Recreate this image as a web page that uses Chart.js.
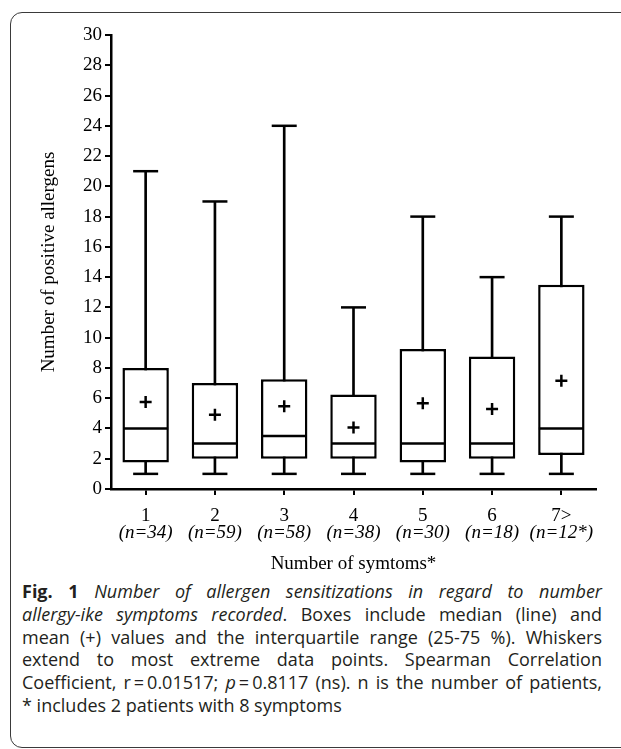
<!DOCTYPE html>
<html lang="en">
<head>
  <meta charset="UTF-8">
  <title>Number of allergen sensitizations</title>
  <style>
    html, body { margin: 0; padding: 0; width: 621px; height: 749px; overflow: hidden; background: #fff; }
    .frame {
      position: absolute; left: 10px; top: 12px; width: 700px; height: 734px;
      border: 1.5px solid #3a3a3a; border-radius: 12px;
    }
    .plot { position: absolute; left: 0; top: 0; width: 621px; height: 575px; }
    .caption {
      position: absolute; left: 22px; top: 580px; width: 580px;
      font-family: "Open Sans", sans-serif; font-size: 18px; line-height: 22.8px;
      color: #231f20;
    }
    .caption div { text-align: justify; text-align-last: justify; white-space: nowrap; }
    .caption div.last { text-align-last: left; }
    .caption b { font-weight: 700; }
  </style>
</head>
<body>
  <div class="frame"></div>
  <div class="plot">
    <canvas id="boxchart"></canvas>
  </div>
  <div class="caption">
    <div><b>Fig. 1</b> <i>Number of allergen sensitizations in regard to number</i></div>
    <div><i>allergy-ike symptoms recorded</i>. Boxes include median (line) and</div>
    <div>mean (+) values and the interquartile range (25-75 %). Whiskers</div>
    <div>extend to most extreme data points. Spearman Correlation</div>
    <div>Coefficient, r&#8201;=&#8201;0.01517; <i>p</i>&#8201;=&#8201;0.8117 (ns). n is the number of patients,</div>
    <div class="last">* includes 2 patients with 8 symptoms</div>
  </div>

  <script src="https://cdn.jsdelivr.net/npm/chart.js"></script>
  <script type="text/javascript">
    // 증상 개수별 데이터
    const labels = ['1', '2', '3', '4', '5', '6', '7>'];
    const nLabels = ['(n=34)', '(n=59)', '(n=58)', '(n=38)', '(n=30)', '(n=18)', '(n=12*)'];
    const minVals = [1, 1, 1, 1, 1, 1, 1];
    const q1Vals = [1.75, 2, 2, 2, 1.75, 2, 2.25];
    const medVals = [4, 3, 3.5, 3, 3, 3, 4];
    const q3Vals = [8, 7, 7.25, 6.25, 9.25, 8.75, 13.5];
    const maxVals = [21, 19, 24, 12, 18, 14, 18];
    const meanVals = [5.75, 4.9, 5.47, 4.07, 5.67, 5.28, 7.15];

    const serif = 'Liberation Serif';

    const boxes = q1Vals.map((q, i) => [q, q3Vals[i]]);
    const whiskers = minVals.map((m, i) => [m, maxVals[i]]);

    const ctx = document.getElementById('boxchart');

    new Chart(ctx, {
      type: 'bar',
      data: {
        labels: labels,
        datasets: [
          {
            // 수염 (세로선)
            data: whiskers,
            backgroundColor: '#000',
            barThickness: 2,
            grouped: false,
            order: 5
          },
          {
            // 박스 (사분위 범위)
            data: boxes,
            backgroundColor: '#fff',
            borderColor: '#000',
            borderWidth: 2.5,
            borderSkipped: false,
            barPercentage: 0.67,
            categoryPercentage: 1,
            grouped: false,
            order: 4
          },
          {
            // 중앙값
            type: 'line',
            data: medVals,
            showLine: false,
            pointStyle: 'line',
            pointRadius: 22.5,
            borderColor: '#000',
            borderWidth: 2.5,
            order: 3
          },
          {
            type: 'line',
            data: minVals,
            showLine: false,
            pointStyle: 'line',
            pointRadius: 12.5,
            borderColor: '#000',
            borderWidth: 2.5,
            order: 2
          },
          {
            type: 'line',
            data: maxVals,
            showLine: false,
            pointStyle: 'line',
            pointRadius: 12.5,
            borderColor: '#000',
            borderWidth: 2.5,
            order: 2
          },
          {
            // 평균 (+)
            type: 'line',
            data: meanVals,
            showLine: false,
            pointStyle: 'cross',
            pointRadius: 6,
            borderColor: '#000',
            borderWidth: 2.5,
            order: 1
          }
        ]
      },
      options: {
        responsive: true,
        maintainAspectRatio: false,
        animation: false,
        layout: { padding: { top: 35, right: 16, left: 0, bottom: 0 } },
        plugins: {
          legend: { display: false },
          tooltip: { enabled: false }
        },
        scales: {
          x: {
            type: 'category',
            offset: true,
            weight: 0,
            grid: {
              display: true, drawOnChartArea: false, offset: false,
              tickLength: 6, lineWidth: 2, color: '#000'
            },
            border: { display: true, color: '#000', width: 2.5 },
            ticks: { color: '#000', padding: 10, maxRotation: 0, font: { family: serif, size: 19 } },
            afterFit: function(scale) { scale.height = 32; }
          },
          x2: {
            type: 'category',
            labels: nLabels,
            position: 'bottom',
            offset: true,
            weight: 1,
            grid: { display: false },
            border: { display: false },
            ticks: { color: '#000', padding: -7, maxRotation: 0, font: { family: serif, size: 19, style: 'italic' } },
            title: {
              display: true,
              text: 'Number of symtoms*',
              color: '#000',
              padding: 0,
              font: { family: serif, size: 19 }
            },
            afterFit: function(scale) { scale.height = 54; }
          },
          y: {
            min: 0,
            max: 30,
            ticks: { stepSize: 2, color: '#000', padding: 3, font: { family: serif, size: 19 } },
            grid: {
              display: true, drawOnChartArea: false,
              tickLength: 6, lineWidth: 2, color: '#000'
            },
            border: { display: true, color: '#000', width: 2.5 },
            title: {
              display: true,
              text: 'Number of positive allergens',
              color: '#000',
              padding: { top: 38, bottom: 0 },
              font: { family: serif, size: 19 }
            },
            afterFit: function(scale) { scale.width = 111; }
          }
        }
      }
    });
  </script>
</body>
</html>
